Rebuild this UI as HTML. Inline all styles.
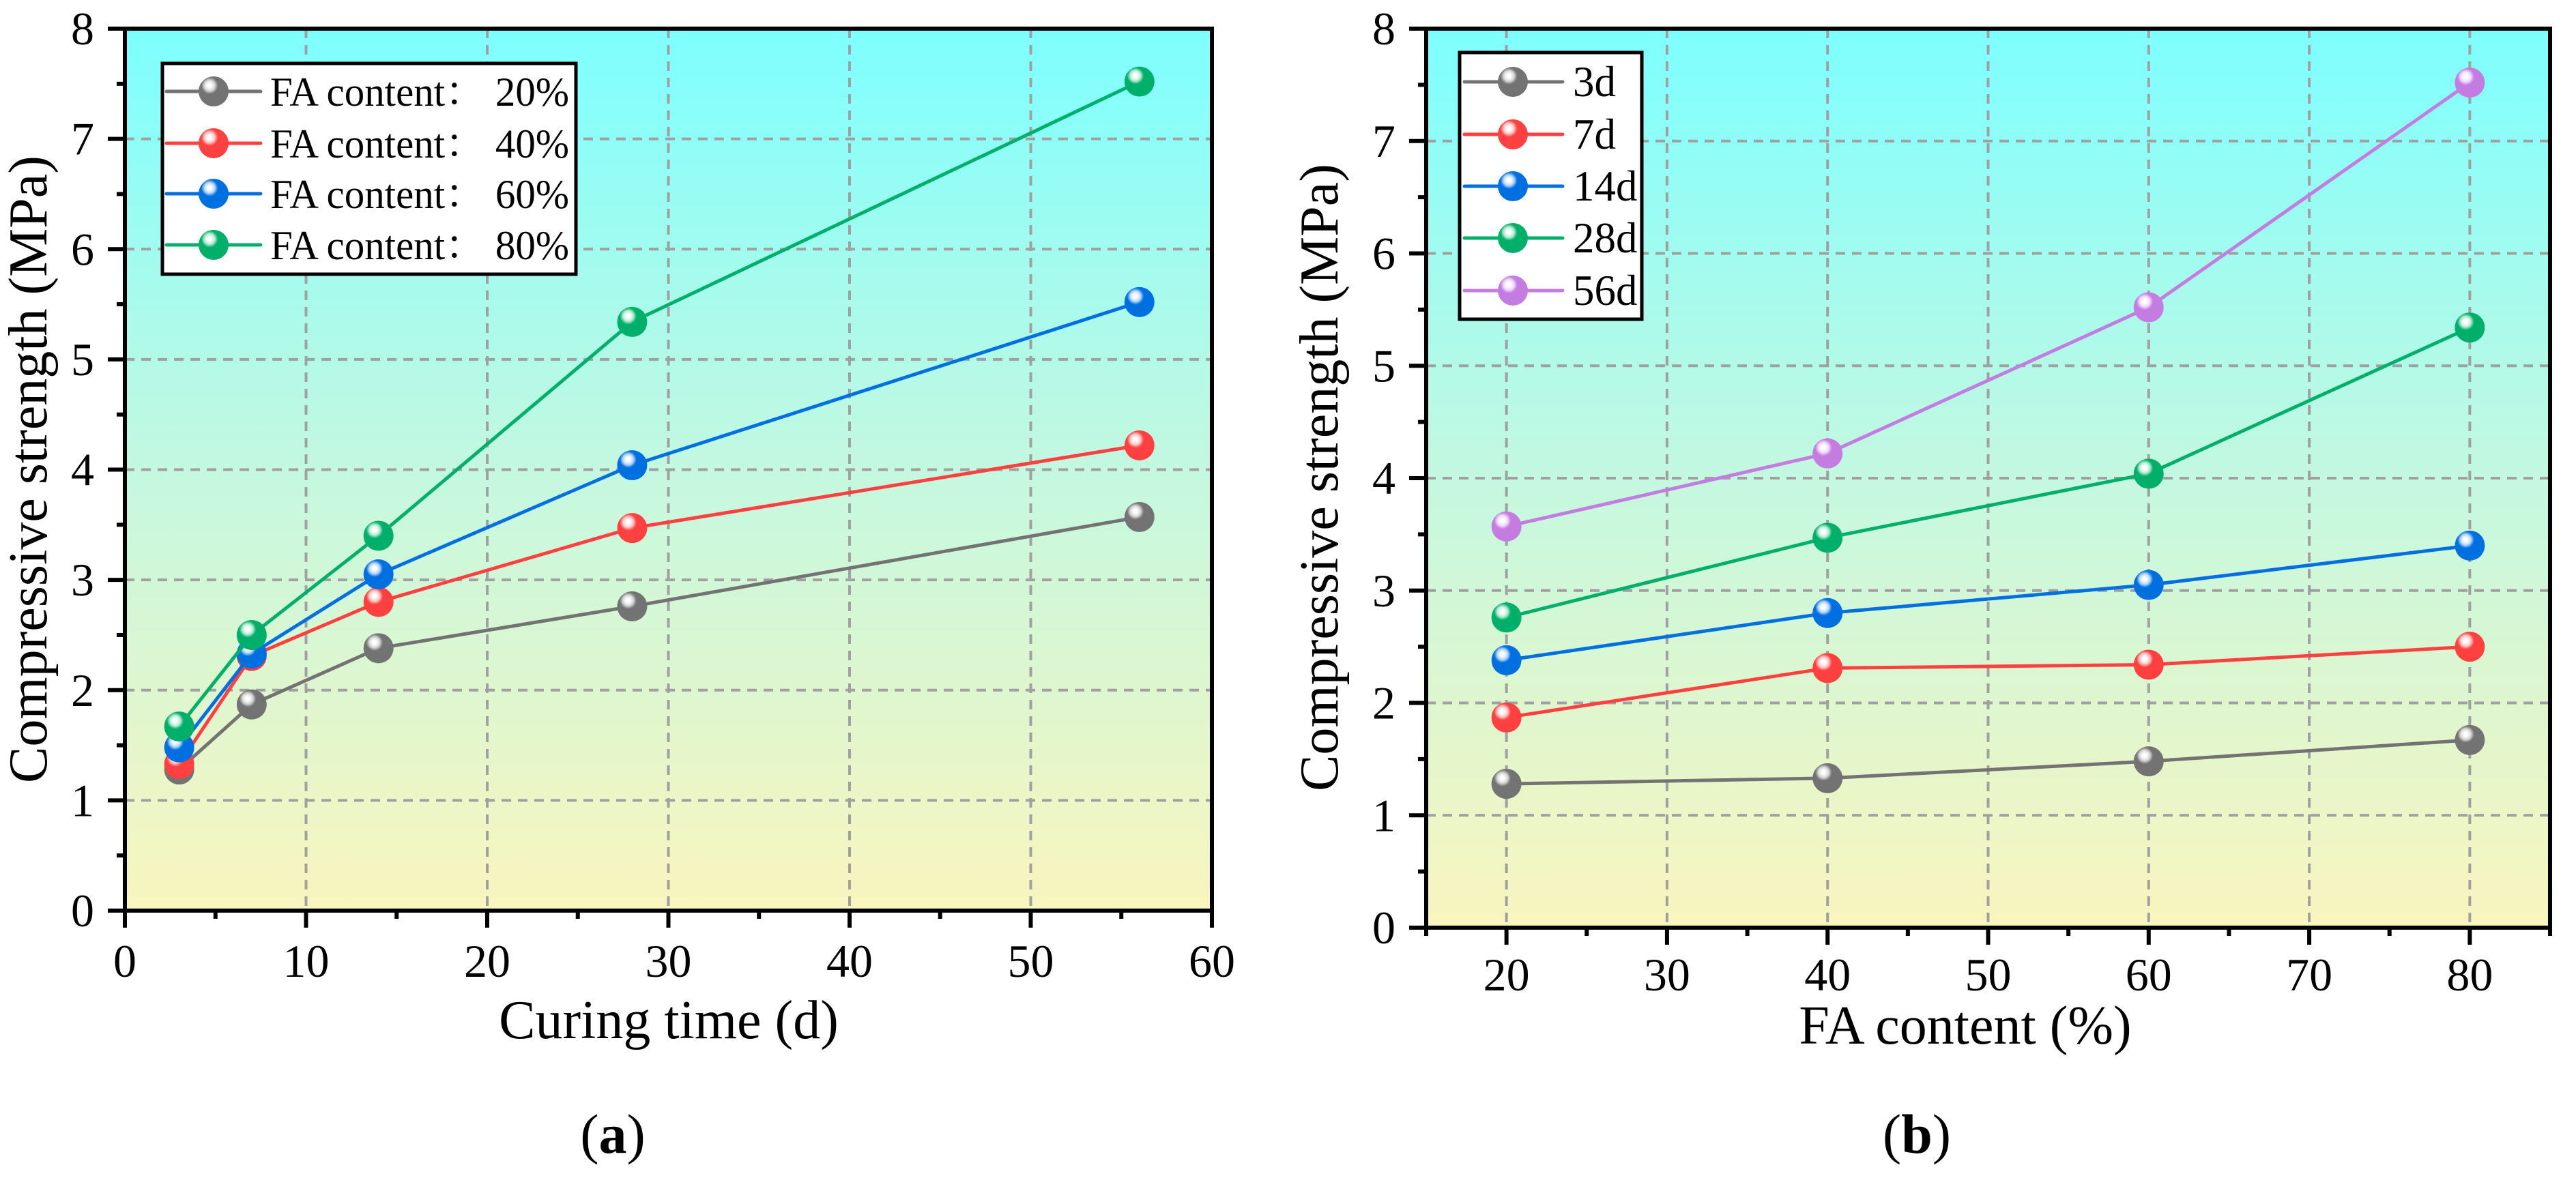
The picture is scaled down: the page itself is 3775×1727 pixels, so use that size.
<!DOCTYPE html>
<html><head><meta charset="utf-8"><style>
html,body{margin:0;padding:0;background:#fff;}
svg{display:block;}
svg text{font-family:"Liberation Serif","Times New Roman",Times,"Noto Serif CJK SC",serif;}
</style></head><body>
<svg id="fig" width="3775" height="1727" viewBox="0 0 3775 1727" xmlns="http://www.w3.org/2000/svg">
<defs>
<linearGradient id="bg" x1="0" y1="0" x2="0" y2="1">
<stop offset="0" stop-color="#7dffff"/><stop offset="0.5" stop-color="#c4f8e0"/><stop offset="1" stop-color="#f9f5be"/>
</linearGradient>
</defs>
</svg>
<script>
// Chart (a)
const curingDays = [3, 7, 14, 28, 56];
const faLabels = ["FA content：  20%", "FA content：  40%", "FA content：  60%", "FA content：  80%"];
const fa20 = [1.28, 1.87, 2.38, 2.76, 3.57];
const fa40 = [1.33, 2.31, 2.80, 3.47, 4.22];
const fa60 = [1.48, 2.33, 3.05, 4.04, 5.52];
const fa80 = [1.67, 2.50, 3.40, 5.34, 7.52];
const xTicksA = [0, 10, 20, 30, 40, 50, 60];
// Chart (b)
const faContents = [20, 40, 60, 80];
const dayLabels = ["3d", "7d", "14d", "28d", "56d"];
const d3 = [1.28, 1.33, 1.48, 1.67];
const d7 = [1.87, 2.31, 2.34, 2.50];
const d14 = [2.38, 2.80, 3.05, 3.40];
const d28 = [2.76, 3.47, 4.04, 5.34];
const d56 = [3.57, 4.22, 5.52, 7.52];
const xTicksB = [20, 30, 40, 50, 60, 70, 80];
const yTicks = [0, 1, 2, 3, 4, 5, 6, 7, 8];

const NS = "http://www.w3.org/2000/svg";
const FONT = '"Liberation Serif", "Times New Roman", Times, "Noto Serif CJK SC", serif';
const svg = document.getElementById('fig');
function mk(tag, attrs, parent) {
  const e = document.createElementNS(NS, tag);
  for (const k in attrs) e.setAttribute(k, attrs[k]);
  if (tag === 'text') e.setAttribute('font-family', FONT);
  (parent || svg).appendChild(e);
  return e;
}
const COLORS = {gray:"#737373", red:"#ff4040", blue:"#0070e0", green:"#00b06a", purple:"#c47ce0"};
const LIGHT = {gray:"#d8d8d8", red:"#ffc8c8", blue:"#b8d8ff", green:"#b8ecd4", purple:"#f0d8ff"};
const defs = svg.querySelector('defs');
for (const c in COLORS) {
  const g = mk('radialGradient', {id:'ball-'+c, cx:'0.38', cy:'0.32', r:'0.62', fx:'0.36', fy:'0.3'}, defs);
  mk('stop', {offset:'0', 'stop-color':'#ffffff'}, g);
  mk('stop', {offset:'0.1', 'stop-color':'#ffffff'}, g);
  mk('stop', {offset:'0.28', 'stop-color':LIGHT[c]}, g);
  mk('stop', {offset:'0.45', 'stop-color':COLORS[c]}, g);
  mk('stop', {offset:'1', 'stop-color':COLORS[c]}, g);
}
function ball(x, y, c, parent, name) {
  const e = mk('circle', {cx:x, cy:y, r:22, fill:'url(#ball-'+c+')'}, parent);
  
  
}

function chart(cfg) {
  const {L, R, T, B, xmin, xmax, xTicks, xMinor, id} = cfg;
  const g = mk('g', {});
  
  
  const sx = v => L + (v - xmin) / (xmax - xmin) * (R - L);
  const sy = v => B - v / 8 * (B - T);
  const bg = mk('rect', {x:L, y:T, width:R-L, height:B-T, fill:'url(#bg)'}, g);
  
  
  xTicks.forEach(v => {
    if (v === xmin || v === xmax) return;
    const l = mk('line', {x1:sx(v), x2:sx(v), y1:T, y2:B, stroke:'#a0a0a0', 'stroke-width':4, 'stroke-dasharray':'14 10'}, g);
    
    
  });
  yTicks.forEach(v => {
    if (v === 0 || v === 8) return;
    const l = mk('line', {x1:L, x2:R, y1:sy(v), y2:sy(v), stroke:'#a0a0a0', 'stroke-width':4, 'stroke-dasharray':'14 10'}, g);
    
    
  });
  cfg.series.forEach((s, i) => {
    const pts = cfg.xs.map((x, j) => sx(x) + ',' + sy(s.vals[j])).join(' ');
    const pl = mk('polyline', {points:pts, fill:'none', stroke:COLORS[s.c], 'stroke-width':5}, g);
    
    
    cfg.xs.forEach((x, j) => ball(sx(x), sy(s.vals[j]), s.c, g, 'point-' + s.key));
  });
  const fr = mk('rect', {x:L, y:T, width:R-L, height:B-T, fill:'none', stroke:'#000', 'stroke-width':6}, g);
  
  
  yTicks.forEach(v => {
    const t = mk('line', {x1:L-25, x2:L, y1:sy(v), y2:sy(v), stroke:'#000', 'stroke-width':6}, g);
    
    
    if (v < 8) {
      const m = mk('line', {x1:L-12, x2:L, y1:sy(v+0.5), y2:sy(v+0.5), stroke:'#000', 'stroke-width':6}, g);
      
      
    }
    const tx = mk('text', {x:L-45, y:sy(v)+23, 'font-size':68, 'text-anchor':'end'}, g);
    tx.textContent = v;
    
    
  });
  xTicks.forEach(v => {
    const t = mk('line', {x1:sx(v), x2:sx(v), y1:B, y2:B+25, stroke:'#000', 'stroke-width':6}, g);
    
    
    const tx = mk('text', {x:sx(v), y:B+cfg.xLabDy, 'font-size':68, 'text-anchor':'middle'}, g);
    tx.textContent = v;
    
    
  });
  xMinor.forEach(v => {
    const t = mk('line', {x1:sx(v), x2:sx(v), y1:B, y2:B+12, stroke:'#000', 'stroke-width':6}, g);
    
    
  });
  const xt = mk('text', {x:cfg.xTitle[0], y:cfg.xTitle[1], 'font-size':80, 'text-anchor':'middle'}, g);
  xt.textContent = cfg.xTitleText;
  
  
  const yt = mk('text', {x:0, y:0, 'font-size':80, 'text-anchor':'middle', transform:'translate(' + cfg.yTitle[0] + ',' + cfg.yTitle[1] + ') rotate(-90)'}, g);
  yt.textContent = 'Compressive strength (MPa)';
  
  
  const lg = mk('g', {}, g);
  
  
  const lb = cfg.leg;
  const box = mk('rect', {x:lb.x, y:lb.y, width:lb.w, height:lb.h, fill:'#fff', stroke:'#000', 'stroke-width':5}, lg);
  
  
  cfg.series.forEach((s, i) => {
    const ry = lb.rows[i];
    const ln = mk('line', {x1:lb.l1, x2:lb.l2, y1:ry, y2:ry, stroke:COLORS[s.c], 'stroke-width':5, 'stroke-linecap':'round'}, lg);
    
    
    ball(lb.mx, ry, s.c, lg, 'legend-marker');
    const attrs = {x:lb.tx, y:ry+21, 'font-size':lb.fs};
    if (lb.tl) { attrs.textLength = lb.tl; attrs.lengthAdjust = 'spacingAndGlyphs'; }
    const t = mk('text', attrs, lg);
    t.textContent = s.label;
    
    
  });
  const cap = mk('text', {x:cfg.cap[0], y:cfg.cap[1], 'font-size':82, 'text-anchor':'middle'}, g);
  cap.innerHTML = '(<tspan font-weight="bold">' + cfg.capLetter + '</tspan>)';
  
  
}

chart({id:'a', L:183, R:1776, T:42, B:1335, xmin:0, xmax:60, xTicks:xTicksA, xMinor:[5,15,25,35,45,55],
  xs:curingDays, xLabDy:97,
  series:[{key:'fa20',c:'gray',vals:fa20,label:faLabels[0]},{key:'fa40',c:'red',vals:fa40,label:faLabels[1]},
          {key:'fa60',c:'blue',vals:fa60,label:faLabels[2]},{key:'fa80',c:'green',vals:fa80,label:faLabels[3]}],
  xTitle:[980,1522], xTitleText:'Curing time (d)', yTitle:[68,688],
  leg:{x:238,y:93,w:606,h:309,rows:[134,210,284,359],l1:244,l2:382,mx:313,tx:396,fs:60,tl:438},
  cap:[898,1690], capLetter:'a'});

chart({id:'b', L:2090, R:3737, T:42, B:1360, xmin:15, xmax:85, xTicks:xTicksB, xMinor:[15,25,35,45,55,65,75,85],
  xs:faContents, xLabDy:92,
  series:[{key:'3d',c:'gray',vals:d3,label:dayLabels[0]},{key:'7d',c:'red',vals:d7,label:dayLabels[1]},
          {key:'14d',c:'blue',vals:d14,label:dayLabels[2]},{key:'28d',c:'green',vals:d28,label:dayLabels[3]},
          {key:'56d',c:'purple',vals:d56,label:dayLabels[4]}],
  xTitle:[2880,1530], xTitleText:'FA content (%)', yTitle:[1960,700],
  leg:{x:2139,y:77,w:267,h:391,rows:[120,197,273,349,426],l1:2146,l2:2290,mx:2217,tx:2305,fs:63},
  cap:[2809,1690], capLetter:'b'});
</script>
</body></html>
